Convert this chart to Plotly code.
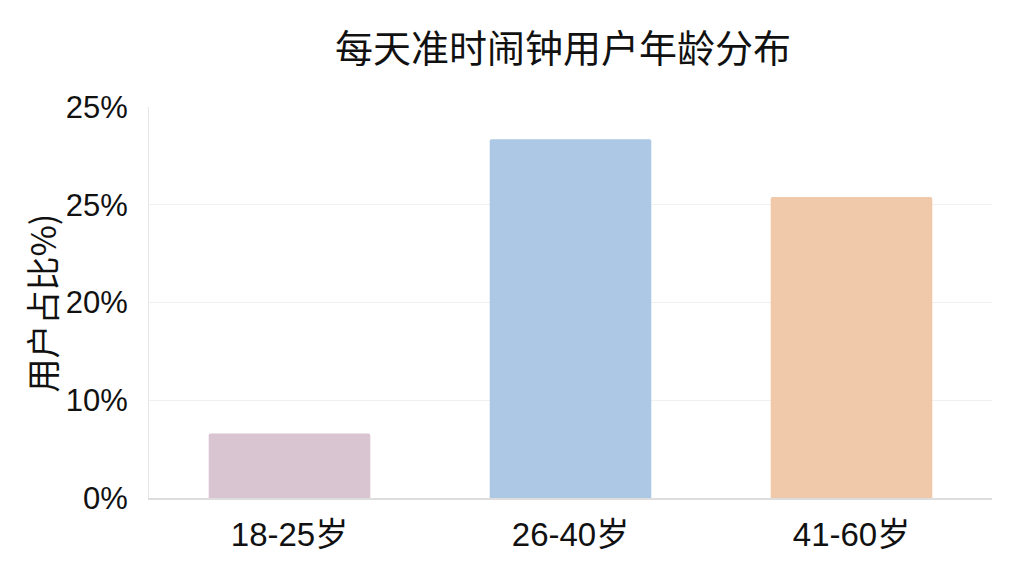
import plotly.graph_objects as go

categories = ["18-25岁", "26-40岁", "41-60岁"]
values = [6.6, 36.7, 30.8]
colors = ["#D9C4D1", "#ADC8E4", "#F0C9AA"]
tick_vals = [0, 10, 20, 30, 40]
tick_text = ["0%", "10%", "20%", "25%", "25%"]
y_title = "用户占比%)"
chart_title = "每天准时闹钟用户年龄分布"

font_family = "Liberation Sans, Noto Sans CJK SC, sans-serif"

fig = go.Figure(go.Bar(
    x=categories, y=values,
    marker=dict(color=colors, line=dict(width=0), cornerradius=2),
    width=0.575,
))

fig.update_layout(
    width=1024, height=576,
    paper_bgcolor="white", plot_bgcolor="white",
    margin=dict(l=141, r=40, t=99, b=86),
    showlegend=False,
    title=dict(text=chart_title, x=0.542, xanchor="center", y=0.93, yanchor="middle",
               font=dict(family="Noto Sans CJK SC, sans-serif", size=38, color="#111111")),
    font=dict(family=font_family, color="#111111"),
    annotations=[dict(
        text=y_title, textangle=-90, xref="paper", yref="paper",
        x=-0.127, y=0.5, xanchor="center", yanchor="middle", showarrow=False,
        font=dict(size=34, family="Noto Sans CJK SC, sans-serif", color="#111111"),
    )],
)
fig.update_xaxes(
    range=[-0.5, 2.5], showgrid=False, showline=True, linecolor="#dddddd", linewidth=2,
    ticks="", tickfont=dict(size=33, family="Liberation Sans, Noto Sans CJK SC"),
    ticklabelstandoff=6,
)
fig.update_yaxes(
    range=[0, 40], tickvals=tick_vals, ticktext=tick_text,
    showgrid=True, gridcolor="#f0f0f0", gridwidth=1,
    showline=True, linecolor="#e6e6e6", linewidth=1, zeroline=False,
    ticks="", tickfont=dict(size=31), ticklabelstandoff=14,
)

fig.write_html("out.html")
